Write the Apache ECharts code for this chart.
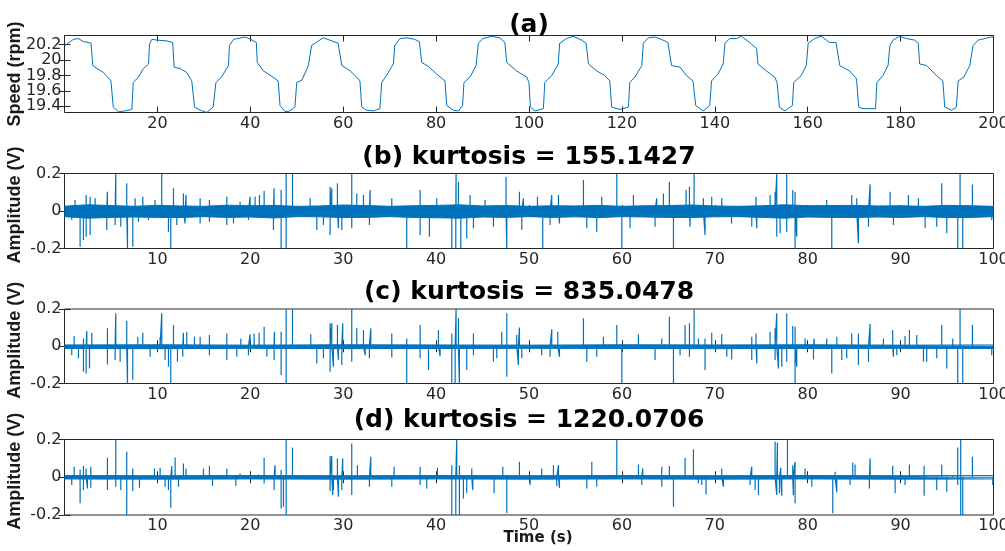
<!DOCTYPE html>
<html>
<head>
<meta charset="utf-8">
<script src="https://cdn.jsdelivr.net/npm/echarts@6/dist/echarts.min.js"></script>
<style>
  html, body { margin: 0; background: #fff; }
  #main { width: 1005px; height: 551px; }
</style>
</head>
<body>
<div id="main"></div>
<script>
// ---- data ----
const titles = ['(a)', '(b) kurtosis = 155.1427', '(c) kurtosis = 835.0478', '(d) kurtosis = 1220.0706'];
const speedTicks = [19.4, 19.6, 19.8, 20, 20.2];
// labels are split over two axes so none is dropped for overlap
const speedLabelsOdd = [19.4, 19.8, 20.2];
const speedLabelsEven = [19.6, 20];

const speedTime = [0.13, 1.9, 3.0, 4.1, 5.1, 5.7, 6.1, 7.0, 8.4, 9.1, 10.0, 10.5, 11.6, 13.0, 14.5, 14.8, 15.9, 17.0, 18.1, 18.3,
  18.8, 19.9, 22.0, 23.3, 23.6, 24.9, 26.3, 27.4, 28.0, 29.2, 30.6, 32.0, 32.6, 33.8, 35.3, 35.5, 36.4, 38.9, 40.1, 41.3,
  41.5, 42.8, 43.9, 45.3, 46.0, 46.4, 47.5, 48.5, 49.6, 50.0, 51.1, 52.5, 53.2, 55.7, 57.1, 58.9, 59.7, 61.5, 62.9, 63.6,
  64.0, 65.0, 66.5, 67.9, 68.3, 69.3, 70.8, 71.1, 72.2, 73.7, 75.4, 76.4, 76.9, 78.3, 80.1, 81.9, 82.3, 83.7, 84.8, 85.7,
  86.0, 87.3, 88.6, 89.1, 90.1, 91.9, 93.7, 94.8, 95.2, 97.3, 99.5, 100.0, 100.3, 101.3, 103.1, 103.4, 104.9, 106.3, 106.6, 108.1,
  109.5, 111.3, 112.3, 112.8, 114.6, 116.3, 117.4, 117.8, 119.6, 121.4, 121.7, 122.8, 124.3, 124.6, 125.7, 127.1, 128.5, 129.9, 130.7, 132.5,
  133.9, 135.3, 135.9, 137.5, 138.9, 139.3, 140.7, 141.8, 142.2, 143.2, 144.7, 145.7, 147.5, 149.0, 149.3, 151.1, 152.9, 153.4, 153.9, 155.1,
  156.7, 157.0, 158.6, 159.7, 160.1, 161.5, 162.9, 164.7, 166.1, 166.9, 169.0, 170.5, 171.0, 171.9, 174.6, 174.9, 176.2, 177.3, 177.7, 178.4,
  179.8, 181.3, 183.0, 183.8, 184.1, 185.6, 187.7, 189.1, 189.5, 191.0, 192.0, 192.4, 193.6, 194.9, 195.6, 196.7, 198.1, 199.5, 200];
const speedRpm = [20.19, 20.27, 20.28, 20.24, 20.23, 20.22, 19.93, 19.89, 19.84, 19.79, 19.73, 19.39, 19.33, 19.34, 19.36, 19.71, 19.78, 19.89, 19.95, 20.21,
  20.27, 20.26, 20.25, 20.23, 19.91, 19.89, 19.84, 19.73, 19.39, 19.35, 19.32, 19.39, 19.71, 19.78, 19.93, 20.19, 20.27, 20.30, 20.27, 20.23,
  19.97, 19.86, 19.82, 19.76, 19.73, 19.41, 19.33, 19.34, 19.39, 19.71, 19.74, 19.93, 20.19, 20.29, 20.26, 20.22, 19.93, 19.86, 19.78, 19.73,
  19.39, 19.35, 19.34, 19.37, 19.71, 19.80, 19.95, 20.19, 20.28, 20.29, 20.27, 20.24, 19.97, 19.92, 19.82, 19.73, 19.41, 19.35, 19.34, 19.41,
  19.71, 19.78, 19.93, 20.22, 20.28, 20.31, 20.29, 20.23, 19.97, 19.86, 19.78, 19.71, 19.39, 19.34, 19.37, 19.71, 19.80, 19.95, 20.22, 20.28,
  20.31, 20.26, 20.22, 19.95, 19.86, 19.80, 19.73, 19.39, 19.36, 19.39, 19.71, 19.78, 19.93, 20.22, 20.29, 20.30, 20.27, 20.23, 19.93, 19.91,
  19.80, 19.73, 19.41, 19.34, 19.41, 19.73, 19.82, 19.95, 20.22, 20.28, 20.28, 20.31, 20.23, 20.15, 19.95, 19.86, 19.78, 19.71, 19.39, 19.34,
  19.41, 19.71, 19.80, 19.93, 20.22, 20.28, 20.31, 20.23, 20.23, 19.93, 19.86, 19.76, 19.39, 19.37, 19.37, 19.71, 19.80, 19.93, 20.19, 20.26,
  20.31, 20.28, 20.26, 20.22, 19.95, 19.93, 19.80, 19.73, 19.39, 19.35, 19.39, 19.73, 19.78, 19.93, 20.19, 20.26, 20.28, 20.30, 20.30];

// [time s, amplitude V] of the visible impulses
const spikesB = [
  [1.14, 0.059], [2.33, 0.085], [2.76, 0.076], [3.3, 0.068], [4.62, 0.103], [5.52, 0.2], [6.7, 0.148], [7.6, 0.068], [8.43, 0.076], [9.75, 0.059],
  [10.47, 0.2], [11.73, 0.121], [12.8, 0.094], [13.09, 0.085], [14.6, 0.068], [15.6, 0.059], [17.47, 0.076], [18.9, 0.05], [19.98, 0.076], [20.52, 0.076],
  [20.99, 0.085], [21.49, 0.107], [22.56, 0.121], [23.32, 0.112], [23.86, 0.2], [24.54, 0.2], [26.44, 0.068], [28.59, 0.13],
  [0.78, -0.048], [1.68, -0.19], [2.04, -0.155], [2.33, -0.137], [2.76, -0.128], [4.55, -0.101], [5.45, -0.075], [6.06, -0.084], [6.78, -0.2], [7.35, -0.19],
  [7.96, -0.057], [9.04, -0.048], [11.19, -0.11], [11.44, -0.2], [12.09, -0.075], [12.98, -0.066], [14.6, -0.066], [15.6, -0.057], [17.47, -0.075], [18.19, -0.066],
  [19.8, -0.048], [22.49, -0.101], [23.32, -0.2], [23.86, -0.2], [27.16, -0.101], [27.87, -0.075], [28.59, -0.128],
  [28.77, 0.121], [29.38, 0.148], [30.92, 0.2], [31.46, 0.094], [32.18, 0.085], [32.9, 0.112], [35.23, 0.068], [38.28, 0.112], [40.07, 0.068], [42.15, 0.2],
  [42.4, 0.156], [43.66, 0.085], [45.27, 0.059], [47.53, 0.183], [48.97, 0.103], [49.4, 0.068], [50.91, 0.076], [52.45, 0.085], [53.17, 0.085], [55.86, 0.165],
  [57.83, 0.076], [59.45, 0.2], [61.24, 0.085], [63.75, 0.068], [64.47, 0.094],
  [29.49, -0.092], [29.85, -0.101], [30.92, -0.092], [32.82, -0.075], [36.84, -0.2], [38.28, -0.128], [39.28, -0.137], [41.69, -0.2], [42.12, -0.2], [42.66, -0.2],
  [43.3, -0.146], [44.02, -0.092], [46.17, -0.084], [47.61, -0.2], [49.22, -0.101], [51.48, -0.2], [52.27, -0.075], [53.28, -0.066], [56.22, -0.092], [57.29, -0.11],
  [59.99, -0.2], [60.88, -0.092], [63.57, -0.084],
  [65.11, 0.156], [66.91, 0.112], [67.27, 0.13], [67.77, 0.2], [68.77, 0.068], [69.67, 0.076], [70.75, 0.068], [74.44, 0.076], [75.95, 0.085], [76.49, 0.103],
  [76.67, 0.2], [77.74, 0.2], [78.39, 0.112], [78.64, 0.103], [82.05, 0.059], [84.74, 0.085], [85.28, 0.068], [86.72, 0.142], [88.87, 0.103], [90.84, 0.085],
  [91.92, 0.068], [94.43, 0.148], [96.4, 0.2], [97.73, 0.142],
  [65.55, -0.2], [67.34, -0.084], [68.95, -0.128], [71.8, -0.066], [73.98, -0.084], [74.52, -0.092], [76.67, -0.137], [77.03, -0.119], [77.74, -0.11], [78.64, -0.2],
  [78.82, -0.137], [82.59, -0.2], [85.46, -0.172], [86.54, -0.084], [89.23, -0.075], [92.64, -0.092], [93.89, -0.084], [94.97, -0.119], [96.15, -0.2], [96.69, -0.2],
  [99.81, -0.048]
];
const spikesC = [
  [1.04, 0.055], [2.04, 0.042], [2.4, 0.082], [2.94, 0.073], [4.62, 0.096], [5.52, 0.177], [6.7, 0.135], [7.89, 0.051], [8.43, 0.073], [10.29, 0.048],
  [10.47, 0.177], [11.73, 0.114], [12.8, 0.073], [13.16, 0.078], [13.99, 0.051], [14.6, 0.051], [15.6, 0.06], [17.47, 0.069], [18.98, 0.042], [19.98, 0.064],
  [20.41, 0.069], [20.95, 0.073], [21.49, 0.105], [22.6, 0.078], [23.32, 0.078], [23.86, 0.2], [24.54, 0.2], [26.51, 0.064], [28.59, 0.123],
  [0.78, -0.048], [1.5, -0.065], [2.04, -0.137], [2.33, -0.146], [2.69, -0.119], [4.62, -0.098], [5.45, -0.074], [5.99, -0.083], [6.78, -0.2], [7.35, -0.18],
  [9.22, -0.057], [10.83, -0.074], [11.19, -0.11], [11.44, -0.2], [12.16, -0.083], [12.73, -0.057], [15.6, -0.048], [17.47, -0.074], [18.55, -0.057], [19.8, -0.048],
  [21.78, -0.057], [22.56, -0.074], [23.32, -0.155], [23.86, -0.2], [27.16, -0.092], [27.87, -0.065], [28.59, -0.137],
  [28.77, 0.123], [29.38, 0.114], [29.95, 0.123], [30.92, 0.2], [31.46, 0.096], [32.18, 0.087], [32.97, 0.096], [35.23, 0.069], [36.84, 0.042], [38.28, 0.114],
  [40.25, 0.087], [41.69, 0.069], [42.15, 0.2], [42.4, 0.15], [44.02, 0.069], [47.07, 0.078], [47.61, 0.177], [48.68, 0.06], [48.97, 0.101], [52.45, 0.091],
  [53.1, 0.078], [55.86, 0.15], [58.01, 0.051], [59.45, 0.114], [61.78, 0.065], [64.29, 0.042],
  [28.95, -0.11], [29.49, -0.074], [29.85, -0.101], [30.92, -0.083], [32.36, -0.048], [32.82, -0.065], [35.23, -0.06], [36.84, -0.2], [38.28, -0.065], [39.18, -0.128],
  [40.43, -0.053], [41.69, -0.2], [42.05, -0.2], [42.51, -0.2], [43.3, -0.128], [44.02, -0.048], [46.17, -0.083], [46.53, -0.065], [47.61, -0.164], [48.86, -0.101],
  [49.22, -0.065], [51.37, -0.048], [52.27, -0.057], [53.28, -0.057], [56.22, -0.083], [57.29, -0.057], [59.99, -0.2], [63.57, -0.074],
  [65.11, 0.159], [66.8, 0.114], [67.27, 0.123], [67.77, 0.2], [68.24, 0.042], [68.95, 0.042], [69.67, 0.073], [70.75, 0.065], [73.98, 0.051], [74.44, 0.069],
  [75.95, 0.078], [76.49, 0.096], [76.67, 0.177], [77.74, 0.177], [78.39, 0.109], [78.64, 0.105], [79.72, 0.042], [80.69, 0.042], [82.05, 0.042], [83.13, 0.051],
  [84.74, 0.069], [85.46, 0.069], [86.72, 0.119], [88.15, 0.042], [89.15, 0.087], [90.48, 0.055], [90.95, 0.087], [91.74, 0.06], [94.43, 0.114], [95.61, 0.042],
  [96.4, 0.2], [97.73, 0.114],
  [65.55, -0.2], [66.26, -0.048], [67.27, -0.057], [68.95, -0.128], [71.29, -0.057], [71.82, -0.071], [73.98, -0.074], [74.52, -0.092], [76.49, -0.074], [76.85, -0.119],
  [77.21, -0.11], [77.74, -0.083], [78.64, -0.2], [78.82, -0.11], [80.62, -0.071], [82.59, -0.146], [83.67, -0.074], [84.2, -0.065], [85.46, -0.101], [86.54, -0.083],
  [89.23, -0.057], [89.59, -0.048], [92.46, -0.083], [92.81, -0.083], [93.89, -0.065], [94.97, -0.119], [96.15, -0.2], [96.69, -0.2], [99.81, -0.048]
];
const spikesD = [
  [1.04, 0.056], [1.68, 0.041], [2.04, 0.059], [2.33, 0.047], [2.83, 0.056], [4.62, 0.103], [5.52, 0.2], [6.7, 0.135], [7.35, 0.047], [9.68, 0.047],
  [10.29, 0.05], [11.55, 0.059], [11.91, 0.105], [12.8, 0.073], [13.09, 0.047], [14.96, 0.047], [15.6, 0.061], [17.47, 0.047], [18.9, 0.02], [20.88, 0.015],
  [21.49, 0.103], [22.67, 0.064], [23.32, 0.038], [23.86, 0.2], [24.54, 0.158], [28.59, 0.112],
  [0.78, -0.041], [1.68, -0.138], [2.04, -0.068], [2.47, -0.059], [2.83, -0.056], [4.62, -0.068], [5.52, -0.05], [6.06, -0.068], [6.7, -0.2], [7.35, -0.073],
  [8.07, -0.056], [10.83, -0.05], [11.19, -0.068], [11.44, -0.161], [12.27, -0.05], [15.93, -0.047], [18.44, -0.047], [21.49, -0.033], [22.56, -0.068], [23.32, -0.165],
  [23.57, -0.156], [23.86, -0.2], [28.59, -0.073], [28.88, -0.094],
  [28.77, 0.112], [29.38, 0.1], [29.95, 0.1], [30.92, 0.179], [31.53, 0.064], [32.97, 0.108], [35.48, 0.056], [38.28, 0.056], [40.14, 0.05], [41.69, 0.064],
  [42.22, 0.2], [42.51, 0.064], [43.84, 0.047], [47.18, 0.056], [48.97, 0.082], [51.37, 0.047], [52.63, 0.064], [53.17, 0.064], [56.76, 0.082], [59.45, 0.2],
  [61.78, 0.068], [62.25, 0.047], [64.29, 0.056],
  [28.95, -0.068], [29.49, -0.103], [29.85, -0.068], [30.92, -0.094], [32.82, -0.05], [35.23, -0.05], [38.28, -0.041], [38.99, -0.059], [41.69, -0.2], [42.12, -0.2],
  [42.51, -0.2], [42.94, -0.112], [43.3, -0.085], [43.95, -0.068], [46.24, -0.085], [47.61, -0.191], [50.12, -0.041], [52.99, -0.047], [53.28, -0.056], [56.22, -0.059],
  [57.29, -0.05], [62.14, -0.041], [64.29, -0.05],
  [65.11, 0.059], [66.8, 0.103], [67.7, 0.149], [70.75, 0.047], [73.98, 0.056], [76.49, 0.188], [76.74, 0.184], [77.1, 0.05], [77.82, 0.2], [78.39, 0.064],
  [78.64, 0.082], [79.72, 0.047], [82.95, 0.029], [84.85, 0.078], [85.1, 0.068], [86.72, 0.1], [89.15, 0.061], [90.95, 0.068], [92.53, 0.061], [94.43, 0.068],
  [95.61, 0.011], [96.15, 0.158], [96.47, 0.2], [97.73, 0.108],
  [65.55, -0.156], [68.24, -0.033], [68.6, -0.041], [69.06, -0.091], [70.93, -0.05], [73.8, -0.041], [74.34, -0.068], [74.7, -0.094], [76.67, -0.094], [76.96, -0.085],
  [77.21, -0.098], [78.46, -0.094], [78.64, -0.138], [80.44, -0.05], [82.7, -0.191], [83.13, -0.08], [84.56, -0.041], [86.64, -0.059], [89.41, -0.085], [90.48, -0.041],
  [92.53, -0.098], [93.89, -0.068], [94.97, -0.077], [96.15, -0.041], [96.47, -0.2], [96.69, -0.2], [99.92, -0.041]
];

// [time s, upper edge, lower edge] of the dense background band
const noiseB = [
  [0, 0.026, -0.03], [2.5, 0.033, -0.038], [5, 0.029, -0.034], [7.5, 0.025, -0.032], [10, 0.03, -0.034], [12.5, 0.027, -0.035], [15, 0.025, -0.03],
  [17.5, 0.031, -0.034], [20, 0.028, -0.032], [22.5, 0.03, -0.037], [25, 0.025, -0.03], [27.5, 0.027, -0.031], [30, 0.032, -0.035], [32.5, 0.029, -0.034],
  [35, 0.025, -0.03], [37.5, 0.028, -0.034], [40, 0.03, -0.036], [42.5, 0.033, -0.038], [45, 0.027, -0.032], [47.5, 0.029, -0.034], [50, 0.025, -0.03],
  [52.5, 0.028, -0.034], [55, 0.027, -0.031], [57.5, 0.03, -0.035], [60, 0.025, -0.03], [62.5, 0.028, -0.032], [65, 0.029, -0.034], [67.5, 0.032, -0.035],
  [70, 0.027, -0.031], [72.5, 0.025, -0.03], [75, 0.028, -0.034], [77.5, 0.033, -0.038], [80, 0.028, -0.032], [82.5, 0.029, -0.034], [85, 0.03, -0.035],
  [87.5, 0.027, -0.032], [90, 0.028, -0.034], [92.5, 0.025, -0.03], [95, 0.03, -0.035], [97.5, 0.028, -0.034], [100, 0.025, -0.03]
];
const noiseC = [[0, 0.007, -0.012], [10, 0.008, -0.013], [20, 0.006, -0.011], [30, 0.008, -0.013], [40, 0.007, -0.012], [50, 0.006, -0.011],
  [60, 0.008, -0.012], [70, 0.007, -0.013], [80, 0.008, -0.012], [90, 0.006, -0.011], [100, 0.007, -0.012]];
const noiseD = [[0, 0.009, -0.009], [10, 0.008, -0.01], [20, 0.009, -0.009], [30, 0.008, -0.01], [40, 0.009, -0.009], [50, 0.008, -0.01],
  [60, 0.009, -0.009], [70, 0.008, -0.01], [80, 0.009, -0.009], [90, 0.008, -0.01], [100, 0.009, -0.009]];

// ---- chart ----
const BLUE = '#0072BD';
const AXIS = '#262626';
const TICK_FONT = { fontFamily: 'DejaVu Sans', fontSize: 16, color: AXIS };

const grids = [
  { top: 35.5, height: 77 },
  { top: 173.5, height: 75 },
  { top: 309, height: 74.5 },
  { top: 439.5, height: 75.5 }
];

function spikeLine(spikes) {
  const pts = [[0, 0]];
  spikes.slice().sort((p, q) => p[0] - q[0]).forEach(([t, a]) => {
    pts.push([t, 0], [t, a], [t, 0]);
  });
  pts.push([100, 0]);
  return pts;
}

const speedFmt = v => String(+v.toFixed(1));
const xAxis = [], yAxis = [], series = [];
grids.forEach((g, i) => {
  const isSpeed = i === 0;
  const xmax = isSpeed ? 200 : 100;
  const xint = isSpeed ? 20 : 10;
  ['bottom', 'top'].forEach(pos => {
    xAxis.push({
      type: 'value', gridIndex: i, position: pos, min: 0, max: xmax, interval: xint,
      axisLine: { show: false },
      axisTick: { inside: true, length: 6, lineStyle: { color: AXIS } },
      axisLabel: pos === 'bottom'
        ? Object.assign({ margin: 3, showMinLabel: false, showMaxLabel: true, hideOverlap: false }, TICK_FONT)
        : { show: false },
      splitLine: { show: false },
      name: (i === 3 && pos === 'bottom') ? 'Time (s)' : '',
      nameLocation: 'middle', nameGap: 16, nameMoveOverlap: false,
      nameTextStyle: { fontFamily: 'DejaVu Sans', fontWeight: 'bold', fontSize: 15, color: '#1a1a1a', padding: [0, 0, 0, 18] }
    });
  });
  ['left', 'right'].forEach(pos => {
    const y = {
      type: 'value', gridIndex: i, position: pos,
      axisLine: { show: false },
      splitLine: { show: false },
      name: pos === 'left' ? (isSpeed ? 'Speed (rpm)' : 'Amplitude (V)') : '',
      nameLocation: 'middle', nameGap: 40, nameMoveOverlap: false,
      nameTextStyle: {
        fontFamily: 'Liberation Sans', fontWeight: 'bold', fontSize: 18, color: '#1a1a1a',
        padding: isSpeed ? 0 : [0, 0, 0, 12]
      }
    };
    if (isSpeed) {
      y.min = 19.32; y.max = 20.32;
      y.axisTick = { inside: true, length: 6, lineStyle: { color: AXIS }, customValues: speedTicks };
      y.axisLabel = pos === 'left'
        ? Object.assign({ margin: 3, customValues: speedLabelsOdd, interval: 0, showMinLabel: true, showMaxLabel: true,
            hideOverlap: false, formatter: speedFmt }, TICK_FONT)
        : { show: false };
    } else {
      y.min = -0.2; y.max = 0.2; y.interval = 0.2;
      y.axisTick = { inside: true, length: 6, lineStyle: { color: AXIS } };
      y.axisLabel = pos === 'left'
        ? Object.assign({ margin: 3, showMinLabel: true, showMaxLabel: true, formatter: v => String(+v.toFixed(1)) }, TICK_FONT)
        : { show: false };
    }
    yAxis.push(y);
  });
});
// extra label-only axis for the speed panel (index 8)
yAxis.push({
  type: 'value', gridIndex: 0, position: 'left', min: 19.32, max: 20.32,
  axisLine: { show: false }, axisTick: { show: false }, splitLine: { show: false },
  axisLabel: Object.assign({ margin: 3, customValues: speedLabelsEven, interval: 0, showMinLabel: true, showMaxLabel: true,
    hideOverlap: false, formatter: speedFmt }, TICK_FONT)
});

series.push({
  type: 'line', xAxisIndex: 0, yAxisIndex: 0, showSymbol: false, silent: true,
  data: speedTime.map((t, k) => [t, speedRpm[k]]),
  lineStyle: { color: BLUE, width: 1 }
});

[[spikesB, noiseB], [spikesC, noiseC], [spikesD, noiseD]].forEach(([spikes, noise], k) => {
  const ax = 2 * (k + 1);
  [1, 2].forEach(col => {
    series.push({
      type: 'line', xAxisIndex: ax, yAxisIndex: ax, showSymbol: false, silent: true,
      data: noise.map(n => [n[0], n[col]]),
      lineStyle: { color: BLUE, width: 1 },
      areaStyle: { color: BLUE, opacity: 1 }
    });
  });
  series.push({
    type: 'line', xAxisIndex: ax, yAxisIndex: ax, showSymbol: false, silent: true,
    data: spikeLine(spikes),
    lineStyle: { color: BLUE, width: 1.2 }
  });
});

const titleY = [25, 157.5, 292, 420];
const graphic = titles.map((txt, i) => ({
  type: 'text', x: 529, y: titleY[i], silent: true,
  style: {
    text: txt, fontFamily: 'DejaVu Sans', fontWeight: 'bold', fontSize: 25, fill: '#000',
    textAlign: 'center', textVerticalAlign: 'middle'
  }
}));

const chart = echarts.init(document.getElementById('main'));
chart.setOption({
  animation: false,
  backgroundColor: '#fff',
  grid: grids.map(g => ({
    left: 64.5, width: 929, top: g.top, height: g.height,
    show: true, borderColor: AXIS, borderWidth: 1, backgroundColor: 'transparent',
    outerBoundsMode: 'none'
  })),
  xAxis, yAxis, series, graphic
});
</script>
</body>
</html>
